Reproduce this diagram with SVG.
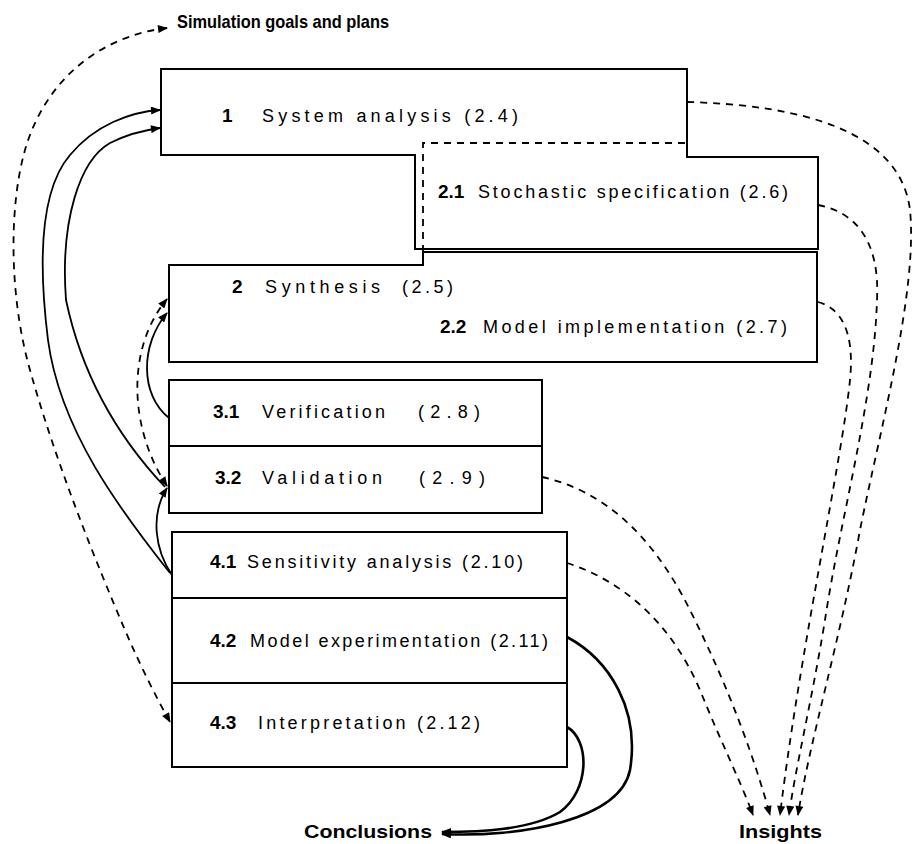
<svg xmlns="http://www.w3.org/2000/svg" width="917" height="844" viewBox="0 0 917 844">
<style>
.box{fill:none;stroke:#000;stroke-width:2;stroke-linejoin:miter}
.dbox{fill:none;stroke:#000;stroke-width:1.8;stroke-dasharray:7,6}
.t{font-family:"Liberation Sans",Arial,sans-serif;font-size:18px;fill:#000}
.n{font-family:"Liberation Sans",Arial,sans-serif;font-size:19px;font-weight:bold;fill:#000}
.lab{font-family:"Liberation Sans",Arial,sans-serif;font-size:19px;font-weight:bold;fill:#000}
.sol{fill:none;stroke:#000;stroke-width:1.8}
.thk{fill:none;stroke:#000;stroke-width:2.6}
.dsh{fill:none;stroke:#000;stroke-width:1.8;stroke-dasharray:7,6}
</style>
<defs>
<marker id="ah" viewBox="0 0 10 8" refX="9" refY="4" markerWidth="11" markerHeight="8" markerUnits="userSpaceOnUse" orient="auto-start-reverse">
<path d="M0,0 L10,4 L0,8 Z" fill="#000"/>
</marker>
</defs>

<g id="node-1">
<path class="box" d="M161,69 H687 V157 H818 V249 H415 V155 H161 Z"/>
<text class="n" x="222" y="122">1</text>
<text class="t" x="262" y="122" textLength="256">System analysis (2.4)</text>
</g>
<g id="node-2-1">
<path class="dbox" d="M423,265 V143 H687"/>
<text class="n" x="438" y="198">2.1</text>
<text class="t" x="478" y="198" textLength="310">Stochastic specification (2.6)</text>
</g>
<g id="node-2">
<path class="box" d="M169,265 H423 V252 H817 V362 H169 Z"/>
<text class="n" x="232" y="293">2</text>
<text class="t" x="265" y="293" textLength="115">Synthesis</text>
<text class="t" x="402" y="293" textLength="51">(2.5)</text>
</g>
<g id="node-2-2">
<text class="n" x="440" y="333">2.2</text>
<text class="t" x="483" y="333" textLength="304">Model implementation (2.7)</text>
</g>
<g id="node-3-1">
<rect class="box" x="169" y="380" width="373" height="66"/>
<text class="n" x="213" y="418">3.1</text>
<text class="t" x="262" y="418" textLength="123">Verification</text>
<text class="t" x="418" y="418" textLength="62">(2.8)</text>
</g>
<g id="node-3-2">
<rect class="box" x="169" y="446" width="373" height="67"/>
<text class="n" x="215" y="484">3.2</text>
<text class="t" x="262" y="484" textLength="120">Validation</text>
<text class="t" x="419" y="484" textLength="66">(2.9)</text>
</g>
<g id="node-4-1">
<rect class="box" x="172" y="532" width="395" height="66"/>
<text class="n" x="210" y="568">4.1</text>
<text class="t" x="247" y="568" textLength="276">Sensitivity analysis (2.10)</text>
</g>
<g id="node-4-2">
<rect class="box" x="172" y="598" width="395" height="85"/>
<text class="n" x="210" y="647">4.2</text>
<text class="t" x="250" y="647" textLength="298">Model experimentation (2.11)</text>
</g>
<g id="node-4-3">
<rect class="box" x="172" y="683" width="395" height="84"/>
<text class="n" x="210" y="729">4.3</text>
<text class="t" x="258" y="729" textLength="222">Interpretation (2.12)</text>
</g>
<g id="goals">
<text class="lab" x="177" y="28" textLength="212" lengthAdjust="spacingAndGlyphs">Simulation goals and plans</text>
</g>
<g id="conclusions">
<text class="lab" x="304" y="838" textLength="128" lengthAdjust="spacingAndGlyphs">Conclusions</text>
</g>
<g id="insights">
<text class="lab" x="739" y="838" textLength="83" lengthAdjust="spacingAndGlyphs">Insights</text>
</g>

<g id="connectors">
<path class="dsh" marker-start="url(#ah)" marker-end="url(#ah)" d="M167,28 C100,36 45,80 25,150 C8,210 10,300 30,370 C55,460 95,560 125,630 C140,665 155,695 170,722"/>
<path class="sol" marker-end="url(#ah)" d="M170,573 C120,510 60,430 48,340 C38,260 40,190 70,155 C95,125 130,112 160,110"/>
<path class="sol" marker-end="url(#ah)" d="M165,487 C130,450 85,390 66,300 C60,220 80,160 110,143 C130,133 145,130 160,128"/>
<path class="sol" marker-end="url(#ah)" d="M172,575 C155,550 150,515 167,488"/>
<path class="sol" marker-end="url(#ah)" d="M169,418 C140,395 140,345 167,313"/>
<path class="dsh" marker-start="url(#ah)" marker-end="url(#ah)" d="M167,486 C130,430 125,350 167,299"/>
<path class="dsh" marker-end="url(#ah)" d="M687,102 C800,105 900,130 910,210 C918,290 880,430 860,530 C840,640 810,740 798,815"/>
<path class="dsh" marker-end="url(#ah)" d="M818,205 C855,212 880,240 877,300 C874,400 840,520 825,620 C812,700 795,770 789,815"/>
<path class="dsh" marker-end="url(#ah)" d="M818,302 C840,308 855,330 850,380 C842,460 800,650 780,815"/>
<path class="dsh" marker-end="url(#ah)" d="M542,477 C600,490 650,530 690,610 C730,690 755,760 770,815"/>
<path class="dsh" marker-end="url(#ah)" d="M567,563 C620,580 670,620 700,690 C720,740 740,780 753,815"/>
<path class="thk" marker-end="url(#ah)" d="M567,637 C610,660 640,710 630,770 C620,820 520,838 442,834"/>
<path class="thk" marker-end="url(#ah)" d="M567,727 C590,740 590,790 560,812 C530,830 480,832 442,832"/>
</g>
</svg>
